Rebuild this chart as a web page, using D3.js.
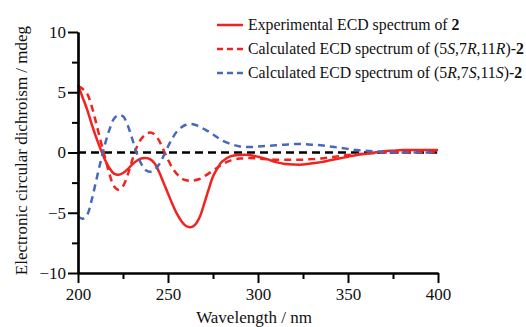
<!DOCTYPE html>
<html>
<head>
<meta charset="utf-8">
<script src="https://cdn.jsdelivr.net/npm/d3@7"></script>
<style>
  body { margin: 0; background: #fff; }
</style>
</head>
<body>
<div id="chart"></div>
<script>
// wavelengths (nm) shared by all three spectra
const wavelengths = [
  200, 202.5, 205, 207.5, 210, 212.5, 215, 217.5, 220, 222.5, 225, 227.5, 230, 232.5, 235, 237.5,
  240, 242.5, 245, 247.5, 250, 252.5, 255, 257.5, 260, 262.5, 265, 267.5, 270, 272.5, 275, 277.5,
  280, 285, 290, 295, 300, 305, 310, 315, 320, 325, 330, 335, 340, 345, 350, 355, 360, 365, 370,
  375, 380, 385, 390, 395, 400
];

// Experimental ECD spectrum of 2 (mdeg)
const experimental = [
  5.6, 4.6, 3.6, 2.4, 1.3, 0.3, -0.6, -1.3, -1.75, -1.85, -1.7, -1.4, -1.0, -0.7, -0.5, -0.45,
  -0.55, -0.9, -1.6, -2.5, -3.4, -4.3, -5.1, -5.7, -6.1, -6.2, -6.0, -5.4, -4.3, -3.1, -2.0, -1.3,
  -0.75, -0.3, -0.2, -0.2, -0.35, -0.55, -0.8, -0.95, -1.0, -1.0, -0.9, -0.8, -0.65, -0.5, -0.35,
  -0.2, -0.1, 0.0, 0.1, 0.15, 0.2, 0.2, 0.2, 0.2, 0.2
];

// Calculated ECD spectrum of (5S,7R,11R)-2
const calcSRR = [
  5.5, 5.3, 4.9, 3.9, 2.5, 1.0, -0.4, -1.8, -2.8, -3.1, -2.8, -1.9, -0.7, 0.4, 1.1, 1.5,
  1.65, 1.5, 1.0, 0.2, -0.6, -1.3, -1.8, -2.15, -2.3, -2.35, -2.3, -2.2, -2.0, -1.75, -1.5, -1.25,
  -1.0, -0.65, -0.5, -0.45, -0.5, -0.55, -0.6, -0.6, -0.6, -0.6, -0.55, -0.5, -0.4, -0.3, -0.2,
  -0.15, -0.1, -0.05, 0.0, 0.0, 0.0, 0.0, 0.0, 0.0, 0.0
];

// Calculated ECD spectrum of (5R,7S,11S)-2
const calcRSS = [
  -5.3, -5.5, -5.2, -4.0, -2.4, -0.8, 0.7, 1.9, 2.8, 3.1, 3.0, 2.3, 1.2, 0.0, -0.9, -1.45,
  -1.6, -1.45, -1.0, -0.3, 0.5, 1.2, 1.75, 2.1, 2.3, 2.37, 2.3, 2.15, 1.95, 1.75, 1.5, 1.25,
  1.0, 0.7, 0.5, 0.45, 0.5, 0.55, 0.6, 0.65, 0.7, 0.7, 0.65, 0.6, 0.5, 0.4, 0.3, 0.2, 0.15,
  0.1, 0.05, 0.0, 0.0, 0.0, 0.0, 0.0, 0.0
];

const xTicks = [200, 250, 300, 350, 400];
const xMinorTicks = [225, 275, 325, 375];
const yTicks = [-10, -5, 0, 5, 10];
const yMinorTicks = [-7.5, -2.5, 2.5, 7.5];

const width = 526;
const height = 327;
const margin = { top: 32, right: 88, bottom: 54, left: 78 };

const serif = '"Liberation Serif"';
const red = '#f2231f';
const blue = '#4668bd';

const svg = d3.select('#chart')
  .append('svg')
  .attr('width', width)
  .attr('height', height);

const x = d3.scaleLinear()
  .domain([200, 400])
  .range([margin.left, width - margin.right]);

const y = d3.scaleLinear()
  .domain([-10, 10])
  .range([height - margin.bottom, margin.top]);

// zero line
svg.append('line')
  .attr('x1', x(200))
  .attr('x2', x(400))
  .attr('y1', y(0))
  .attr('y2', y(0))
  .attr('stroke', '#000')
  .attr('stroke-width', 2.5)
  .attr('stroke-dasharray', '8,5');

const line = d3.line()
  .x((d, i) => x(wavelengths[i]))
  .y(d => y(d))
  .curve(d3.curveCatmullRom);

const series = [
  { values: experimental, color: red, dash: null },
  { values: calcSRR, color: red, dash: '7,5' },
  { values: calcRSS, color: blue, dash: '7,5' }
];

series.forEach(s => {
  svg.append('path')
    .datum(s.values)
    .attr('d', line)
    .attr('fill', 'none')
    .attr('stroke', s.color)
    .attr('stroke-width', 2.5)
    .attr('stroke-dasharray', s.dash);
});

// axes
const styleAxis = g => {
  g.attr('font-family', null).attr('font-size', null);
  g.selectAll('.domain').attr('stroke', '#000').attr('stroke-width', 2.2);
  g.selectAll('.tick line').attr('stroke', '#000').attr('stroke-width', 2);
  g.selectAll('text')
    .attr('fill', '#111')
    .style('font-family', serif)
    .style('font-size', '17px');
};

svg.append('g')
  .attr('transform', `translate(0,${y(-10)})`)
  .call(d3.axisBottom(x).tickValues(xMinorTicks).tickSize(6).tickSizeOuter(0).tickFormat(''))
  .call(styleAxis);

svg.append('g')
  .attr('transform', `translate(0,${y(-10)})`)
  .call(d3.axisBottom(x).tickValues(xTicks).tickSize(10).tickSizeOuter(0).tickPadding(5))
  .call(styleAxis);

svg.append('g')
  .attr('transform', `translate(${x(200)},0)`)
  .call(d3.axisLeft(y).tickValues(yMinorTicks).tickSize(6).tickSizeOuter(0).tickFormat(''))
  .call(styleAxis);

svg.append('g')
  .attr('transform', `translate(${x(200)},0)`)
  .call(d3.axisLeft(y).tickValues(yTicks).tickSize(10).tickSizeOuter(0).tickPadding(2))
  .call(styleAxis);

// axis titles
svg.append('text')
  .attr('x', (x(200) + x(400)) / 2 - 4)
  .attr('y', 323)
  .attr('text-anchor', 'middle')
  .attr('fill', '#111')
  .style('font-family', serif)
  .style('font-size', '17px')
  .text('Wavelength / nm');

svg.append('text')
  .attr('transform', `translate(27,${(y(10) + y(-10)) / 2 - 2}) rotate(-90)`)
  .attr('text-anchor', 'middle')
  .attr('fill', '#111')
  .style('font-family', serif)
  .style('font-size', '17px')
  .text('Electronic circular dichroism / mdeg');

// legend
const legend = svg.append('g');
const legendRows = [
  { color: red, dash: null, parts: [['Experimental ECD spectrum of ', ''], ['2', 'b']] },
  { color: red, dash: '6,4', parts: [['Calculated ECD spectrum of (5', ''], ['S', 'i'], [',7', ''], ['R', 'i'], [',11', ''], ['R', 'i'], [')-', ''], ['2', 'b']] },
  { color: blue, dash: '6,4', parts: [['Calculated ECD spectrum of (5', ''], ['R', 'i'], [',7', ''], ['S', 'i'], [',11', ''], ['S', 'i'], [')-', ''], ['2', 'b']] }
];

legendRows.forEach((r, i) => {
  const cy = 25 + i * 24;
  legend.append('line')
    .attr('x1', 217)
    .attr('x2', 243)
    .attr('y1', cy)
    .attr('y2', cy)
    .attr('stroke', r.color)
    .attr('stroke-width', 2.5)
    .attr('stroke-dasharray', r.dash);

  const t = legend.append('text')
    .attr('x', 248)
    .attr('y', cy + 5)
    .attr('fill', '#111')
    .style('font-family', serif)
    .style('font-size', '15.8px');
  r.parts.forEach(p => {
    t.append('tspan')
      .text(p[0])
      .style('font-style', p[1] === 'i' ? 'italic' : 'normal')
      .style('font-weight', p[1] === 'b' ? 'bold' : 'normal');
  });
});
</script>
</body>
</html>
